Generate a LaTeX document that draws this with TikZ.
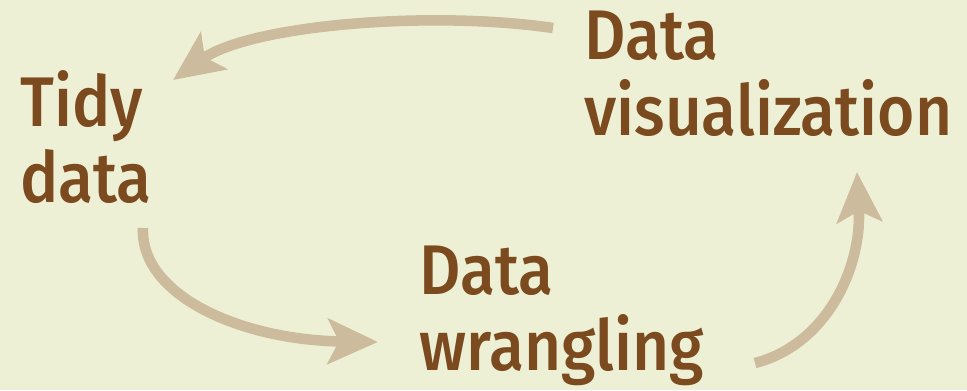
\documentclass[tikz,border=0pt]{standalone}
\usepackage{fontspec}
\setmainfont{Fira Sans}[UprightFont={* Medium}, FakeStretch=0.91]
\usetikzlibrary{arrows.meta}
\definecolor{bgcol}{HTML}{EEF0D6}
\definecolor{txtcol}{HTML}{7B4A1E}
\definecolor{arrcol}{HTML}{CCBC9D}
\tikzset{
  label/.style={inner sep=0pt, anchor=base west, align=left, text=txtcol,
    font=\fontsize{40}{43.2}\selectfont},
  flow/.style={draw=arrcol, line width=6pt,
    -{Stealth[length=1cm, width=0.9cm, inset=0.22cm]}}
}
\begin{document}
\begin{tikzpicture}[x=0.02cm, y=-0.02cm]
  \fill[bgcol] (0,0) rectangle (967,390);
  \useasboundingbox (0,0) rectangle (967,390);
  % labels (anchored at the baseline of their last line)
  \node[label] (tidy) at (20,202) {Tidy\\data};
  \node[label] (wrang) at (419,370) {Data\\wrangling};
  \node[label] (vis) at (584,135) {Data\\visualization};
  % arrow ends
  \coordinate (v0) at (553,28);
  \coordinate (t1) at (173,80);
  \coordinate (t0) at (143,228);
  \coordinate (w1) at (378,342);
  \coordinate (w0) at (755,363);
  \coordinate (v1) at (857,172);
  % cycle of arrows
  \draw[flow] (v0) .. controls (430,10) and (250,25) .. (t1);
  \draw[flow] (t0) .. controls (140,295) and (240,340) .. (w1);
  \draw[flow] (w0) .. controls (825,345) and (862,270) .. (v1);
\end{tikzpicture}
\end{document}
